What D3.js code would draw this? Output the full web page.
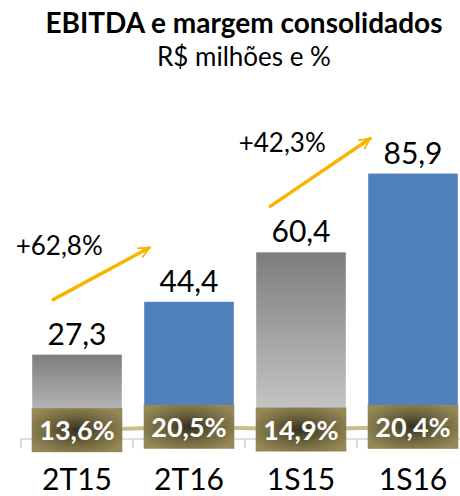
<!DOCTYPE html>
<head>
    <style>
    body { margin: 0; background: #fff; }
    text { font-family: Lato, "Open Sans", sans-serif; }
    .title { font-weight: bold; font-size: 28px; fill: #000; }
    .subtitle { font-size: 26px; fill: #000; }
    .value { font-size: 30px; fill: #000; }
    .growth { font-size: 26px; fill: #000; }
    .cat { font-size: 30px; fill: #000; }
    .margin-label { font-size: 27px; font-weight: bold; fill: #fff; }
    </style>
    <script src="https://d3js.org/d3.v7.min.js"></script>
</head>
<body>
    <svg width="460" height="496"></svg>
    <script>

    var categories = ["2T15", "2T16", "1S15", "1S16"];
    var ebitda = [27.3, 44.4, 60.4, 85.9];
    var margem = [13.6, 20.5, 14.9, 20.4];
    var barKind = ["gray", "blue", "gray", "blue"];
    // growth arrows: from bar index -> to bar index
    var growthFrom = [0, 2];
    var growthTo = [1, 3];
    var growthLabels = ["+62,8%", "+42,3%"];

    // layout only: pixel offsets of arrow ends / labels from the bar tops
    var arrowLayout = [
      { sx: 21, sy: -55, ex: 5, ey: -54, lx: 6, ly: -45 },
      { sx: 14, sy: -46, ex: 2, ey: -35, lx: 12, ly: -54 }
    ];

    var fmt = function(v, d) { return v.toFixed(d).replace(".", ","); };

    var svg = d3.select("svg");

    var x = d3.scaleBand()
        .domain(categories)
        .range([21, 469])
        .paddingInner(0.2)
        .paddingOuter(0.1);

    var y = d3.scaleLinear()
        .domain([0, 100])
        .range([439, 130]);

    // margin line lives in its own flat scale near the axis
    var yM = d3.scaleLinear()
        .domain([0, 100])
        .range([437, 387]);

    var defs = svg.append("defs");

    var gray = defs.append("linearGradient")
        .attr("id", "grayGrad")
        .attr("x1", 0).attr("y1", 0).attr("x2", 0).attr("y2", 1);
    gray.append("stop").attr("offset", "0%").attr("stop-color", "#7d7d7d");
    gray.append("stop").attr("offset", "100%").attr("stop-color", "#d2d2d2");

    var olive = defs.append("radialGradient")
        .attr("id", "oliveGrad")
        .attr("cx", "50%").attr("cy", "50%").attr("r", "60%");
    olive.append("stop").attr("offset", "0%").attr("stop-color", "#34301f");
    olive.append("stop").attr("offset", "55%").attr("stop-color", "#726840");
    olive.append("stop").attr("offset", "100%").attr("stop-color", "#958957");

    defs.append("marker")
        .attr("id", "arrowHead")
        .attr("viewBox", "0 0 10 10")
        .attr("refX", 9).attr("refY", 5)
        .attr("markerWidth", 3.6).attr("markerHeight", 3.6)
        .attr("markerUnits", "strokeWidth")
        .attr("orient", "auto")
      .append("path")
        .attr("d", "M1,1 L9,5 L1,9")
        .attr("fill", "none")
        .attr("stroke", "#f7b500")
        .attr("stroke-width", 1.4)
        .attr("stroke-linecap", "round")
        .attr("stroke-linejoin", "round");

    // title
    svg.append("text").attr("class", "title")
        .attr("x", 244).attr("y", 33).attr("text-anchor", "middle")
        .text("EBITDA e margem consolidados");
    svg.append("text").attr("class", "subtitle")
        .attr("x", 244).attr("y", 66).attr("text-anchor", "middle")
        .text("R$ milhões e %");

    // bars
    svg.append("g").selectAll("rect")
        .data(ebitda)
        .enter().append("rect")
          .attr("x", function(d, i) { return x(categories[i]); })
          .attr("y", function(d) { return y(d); })
          .attr("width", x.bandwidth())
          .attr("height", function(d) { return y(0) - y(d); })
          .attr("fill", function(d, i) { return barKind[i] === "gray" ? "url(#grayGrad)" : "#4f81bd"; });

    svg.append("g").selectAll("text")
        .data(ebitda)
        .enter().append("text")
          .attr("class", "value")
          .attr("x", function(d, i) { return x(categories[i]) + x.bandwidth() / 2; })
          .attr("y", function(d) { return y(d) - 10; })
          .attr("text-anchor", "middle")
          .text(function(d) { return fmt(d, 1); });

    // axis
    var axisG = svg.append("g");
    axisG.append("line")
        .attr("x1", 21).attr("x2", 469)
        .attr("y1", y(0)).attr("y2", y(0))
        .attr("stroke", "#bfbfbf").attr("stroke-width", 1.2);
    var step = x.step();
    axisG.selectAll("line.tick")
        .data(d3.range(categories.length + 1))
        .enter().append("line")
          .attr("class", "tick")
          .attr("x1", function(i) { return 21 + i * step; })
          .attr("x2", function(i) { return 21 + i * step; })
          .attr("y1", y(0)).attr("y2", y(0) + 9)
          .attr("stroke", "#bfbfbf").attr("stroke-width", 1.2);

    svg.append("g").selectAll("text")
        .data(categories)
        .enter().append("text")
          .attr("class", "cat")
          .attr("x", function(d) { return x(d) + x.bandwidth() / 2; })
          .attr("y", 490)
          .attr("text-anchor", "middle")
          .text(function(d) { return d; });

    // margin line + boxes
    var line = d3.line()
        .x(function(d, i) { return x(categories[i]) + x.bandwidth() / 2; })
        .y(function(d) { return yM(d); });

    svg.append("path")
        .datum(margem)
        .attr("d", line)
        .attr("fill", "none")
        .attr("stroke", "#c9bd8b")
        .attr("stroke-width", 4);

    var boxH = 44;
    var boxes = svg.append("g").selectAll("g")
        .data(margem)
        .enter().append("g")
          .attr("transform", function(d, i) {
            return "translate(" + (x(categories[i]) + x.bandwidth() / 2) + "," + yM(d) + ")";
          });
    boxes.append("rect")
        .attr("x", -x.bandwidth() / 2 - 0.5)
        .attr("y", -boxH / 2)
        .attr("width", x.bandwidth() + 1)
        .attr("height", boxH)
        .attr("fill", "url(#oliveGrad)");
    boxes.append("text")
        .attr("class", "margin-label")
        .attr("y", 10)
        .attr("text-anchor", "middle")
        .text(function(d) { return fmt(d, 1) + "%"; });

    // growth arrows
    var arrows = svg.append("g");
    growthLabels.forEach(function(lbl, k) {
      var a = growthFrom[k], b = growthTo[k], L = arrowLayout[k];
      var x1 = x(categories[a]) + L.sx, y1 = y(ebitda[a]) + L.sy;
      var x2 = x(categories[b]) + L.ex, y2 = y(ebitda[b]) + L.ey;
      arrows.append("line")
          .attr("x1", x1).attr("y1", y1)
          .attr("x2", x2).attr("y2", y2)
          .attr("stroke", "#f7b500")
          .attr("stroke-width", 3.5)
          .attr("stroke-linecap", "round")
          .attr("marker-end", "url(#arrowHead)");
      arrows.append("text")
          .attr("class", "growth")
          .attr("x", x1 + L.lx)
          .attr("y", y1 + L.ly)
          .attr("text-anchor", "middle")
          .text(lbl);
    });

    </script>
</body>
